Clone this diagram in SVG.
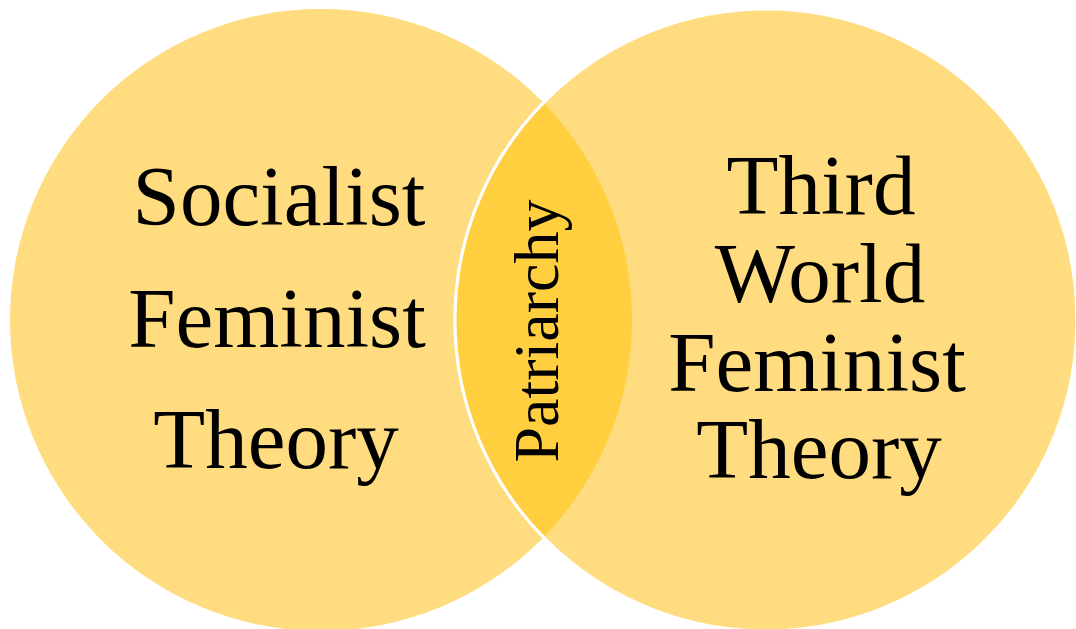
<svg xmlns="http://www.w3.org/2000/svg" width="1076" height="629" viewBox="0 0 1076 629">
<style>
.c{fill:#FFDC7F}
.lens{fill:#FFCF40}
.t{font-family:"Liberation Serif","Times New Roman",serif;fill:#000;text-anchor:middle}
.big{font-size:85px}
.mid{font-size:64px}
</style>
<rect width="1076" height="629" fill="#fff"/>
<g id="left-circle">
<circle class="c" cx="321" cy="320" r="311"/>
</g>
<g id="right-circle">
<circle class="c" cx="766" cy="320" r="311" stroke="#fff" stroke-width="3"/>
</g>
<g id="overlap">
<path class="lens" d="M543.5,102.7 A311,311 0 0 1 543.5,537.3 A311,311 0 0 1 543.5,102.7 Z"/>
<path d="M543.5,102.7 A311,311 0 0 0 543.5,537.3" fill="none" stroke="#fff" stroke-width="3"/>
<text class="t mid" transform="translate(558,331) rotate(-90)">Patriarchy</text>
</g>
<g id="left-label">
<text class="t big" x="279" y="225">Socialist</text>
<text class="t big" x="277" y="347">Feminist</text>
<text class="t big" x="276" y="468">Theory</text>
</g>
<g id="right-label">
<text class="t big" x="821" y="214">Third</text>
<text class="t big" x="820" y="302">World</text>
<text class="t big" x="817" y="391">Feminist</text>
<text class="t big" x="819" y="478">Theory</text>
</g>
<g id="connectors"/>
</svg>
